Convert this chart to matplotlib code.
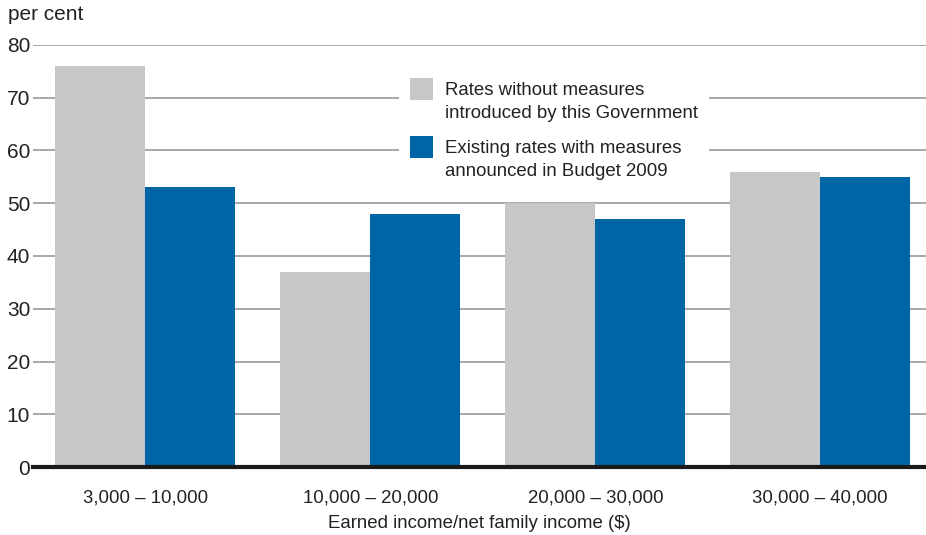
# Grouped bar chart: effective marginal tax rates by income band
import matplotlib.pyplot as plt
import numpy as np
from matplotlib.patches import Rectangle
from matplotlib.legend_handler import HandlerPatch

plt.rcParams['font.family'] = ['Liberation Sans', 'DejaVu Sans']

categories = ['3,000 – 10,000', '10,000 – 20,000', '20,000 – 30,000', '30,000 – 40,000']
rates_without = [76, 37, 50, 56]
rates_existing = [53, 48, 47, 55]
yticks = [0, 10, 20, 30, 40, 50, 60, 70, 80]
labels = ['Rates without measures\nintroduced by this Government',
          'Existing rates with measures\nannounced in Budget 2009']

grey = '#c6c7c9'
blue = '#0065a7'
txt = '#222222'

fig = plt.figure(figsize=(9.26, 5.35), dpi=100)
ax = fig.add_axes([0.0356, 0.127, 0.9644, 0.789])

x = np.arange(len(categories))
w = 0.4
ax.set_axisbelow(True)
b1 = ax.bar(x - w/2, rates_without, w, color=grey)
b2 = ax.bar(x + w/2, rates_existing, w, color=blue)

ax.set_xlim(-0.5, 3.47)
ax.set_ylim(0, 80)
ax.set_yticks(yticks)
ax.yaxis.grid(True, color='#9a9a9a', linewidth=1.2)
ax.axhline(0, color='#1a1a1a', linewidth=3, zorder=5, clip_on=False)

for s in ax.spines.values():
    s.set_visible(False)
ax.tick_params(axis='y', length=0, pad=2, labelsize=15, colors=txt)
ax.tick_params(axis='x', length=0, pad=16, labelsize=13.4, colors=txt)
ax.set_xticks(x)
ax.set_xticklabels(categories)
ax.set_xlabel('Earned income/net family income ($)', fontsize=13.4, color=txt, labelpad=6)

fig.text(0.009, 0.972, 'per cent', fontsize=15, color=txt, va='center', ha='left')


# legend squares sit level with the first line of each label
def top_square(legend, orig_handle, xdescent, ydescent, width, height, fontsize):
    return Rectangle((-xdescent, -ydescent + 0.62 * fontsize), width, 16)


leg = ax.legend([b1[0], b2[0]], labels, loc='upper left', bbox_to_anchor=(0.399, 0.961),
                frameon=True, facecolor='white', edgecolor='none', framealpha=1, fancybox=False,
                fontsize=13.4, handlelength=1.25, handleheight=1.2, handletextpad=0.65,
                labelspacing=0.98, borderpad=0.6,
                handler_map={Rectangle: HandlerPatch(patch_func=top_square)})
for t in leg.get_texts():
    t.set_color(txt)
    t.set_linespacing(1.45)

fig.savefig('out.png', dpi=100)
